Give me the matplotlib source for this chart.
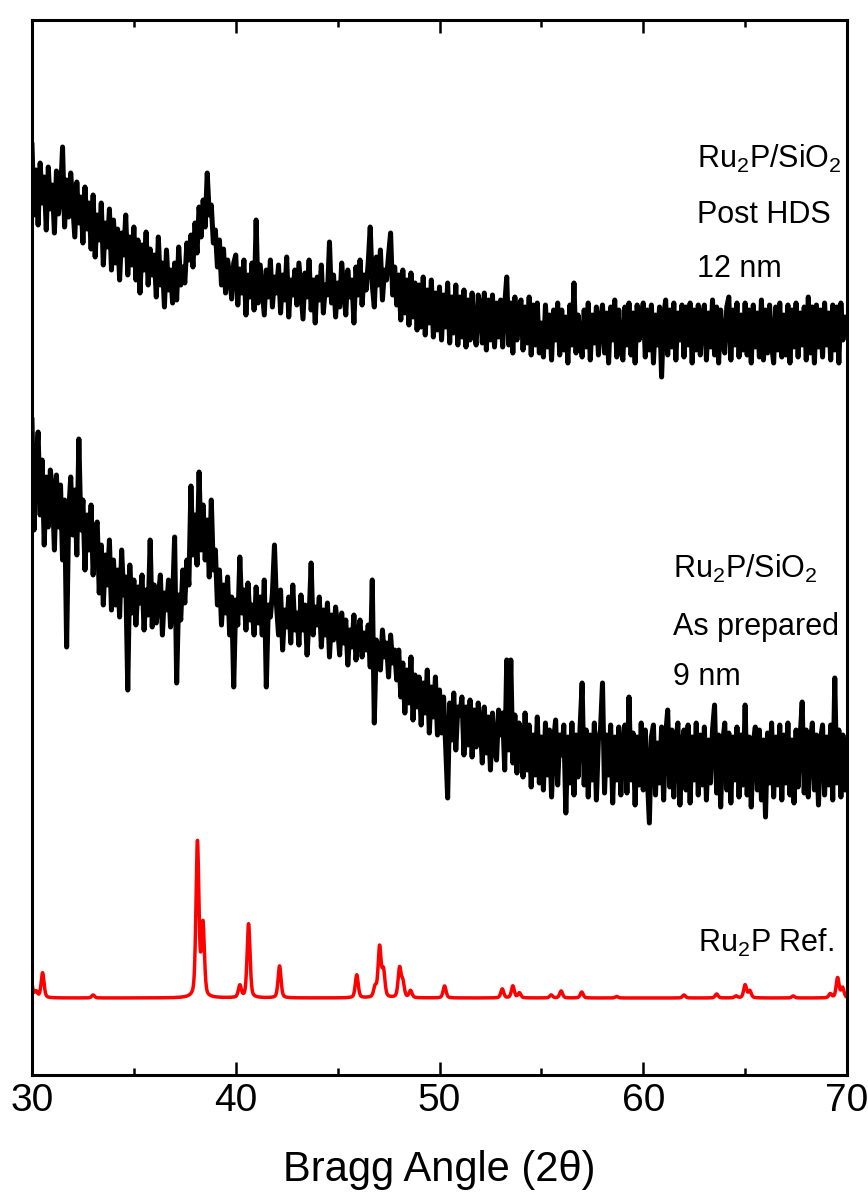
import numpy as np
import matplotlib
matplotlib.use("Agg")
import matplotlib.pyplot as plt

plt.rcParams["font.family"] = ["Liberation Sans", "DejaVu Sans"]
plt.rcParams["mathtext.fontset"] = "custom"
plt.rcParams["mathtext.rm"] = "Liberation Sans"
plt.rcParams["mathtext.it"] = "Liberation Sans:italic"

# 2-theta scan grid, 0.1 deg step
two_theta = np.linspace(30, 70, 401)

# Ru2P/SiO2 after HDS (a.u.)
post_hds = [
    930, 860, 905, 850, 912, 872, 898, 845, 908, 866,
    890, 842, 904, 861, 880, 928, 848, 895, 858, 902,
    870, 838, 893, 852, 878, 832, 888, 846, 872, 826,
    880, 818, 860, 835, 872, 810, 852, 828, 866, 805,
    855, 812, 846, 795, 842, 820, 860, 800, 838, 810,
    848, 795, 835, 782, 830, 805, 843, 790, 826, 800,
    820, 778, 838, 790, 812, 768, 825, 785, 805, 772,
    812, 775, 828, 790, 808, 792, 832, 815, 840, 808,
    852, 822, 868, 838, 875, 848, 902, 860, 870, 832,
    845, 808, 835, 790, 826, 782, 815, 800, 776, 812,
    820, 770, 806, 782, 815, 760, 800, 778, 812, 765,
    855, 772, 810, 785, 760, 805, 778, 815, 768, 798,
    782, 810, 762, 800, 775, 818, 758, 795, 780, 805,
    770, 812, 784, 756, 802, 778, 815, 765, 795, 752,
    798, 775, 810, 762, 790, 780, 833, 772, 800, 758,
    792, 768, 812, 785, 760, 805, 778, 795, 752, 808,
    780, 815, 770, 800, 785, 812, 848, 790, 768, 818,
    790, 825, 775, 805, 795, 820, 842, 780, 808, 770,
    800, 755, 805, 762, 795, 750, 802, 758, 792, 745,
    790, 748, 798, 740, 785, 752, 795, 738, 782, 745,
    788, 735, 780, 748, 792, 732, 778, 742, 790, 730,
    778, 738, 785, 728, 775, 735, 782, 742, 730, 780,
    770, 732, 782, 725, 775, 735, 780, 728, 772, 738,
    775, 728, 770, 798, 730, 772, 722, 778, 735, 768,
    775, 725, 768, 732, 778, 720, 770, 730, 772, 722,
    752, 718, 770, 728, 760, 715, 765, 735, 772, 720,
    765, 725, 758, 712, 770, 730, 792, 722, 760, 738,
    718, 765, 728, 772, 715, 760, 732, 768, 720, 755,
    770, 722, 762, 712, 768, 735, 775, 718, 765, 728,
    715, 768, 730, 772, 720, 762, 712, 770, 735, 758,
    772, 718, 765, 725, 770, 712, 760, 730, 768, 698,
    758, 775, 720, 765, 728, 772, 715, 762, 735, 770,
    718, 768, 730, 772, 712, 765, 725, 770, 720, 760,
    770, 715, 762, 728, 775, 720, 768, 712, 765, 730,
    722, 768, 778, 715, 765, 730, 772, 718, 760, 725,
    772, 720, 765, 712, 770, 728, 762, 718, 775, 715,
    765, 722, 770, 730, 712, 768, 725, 772, 718, 760,
    720, 770, 712, 765, 728, 772, 718, 762, 730, 768,
    715, 778, 722, 768, 712, 770, 728, 765, 718, 772,
    730, 762, 715, 770, 725, 768, 712, 772, 735, 758,
    740,
]

# Ru2P/SiO2 as prepared (a.u.)
as_prepared = [
    655, 545, 610, 643, 560, 615, 530, 598, 548, 605,
    585, 525, 600, 548, 590, 515, 575, 428, 562, 598,
    540, 585, 520, 636, 545, 575, 505, 560, 525, 570,
    500, 545, 553, 482, 530, 470, 520, 490, 535, 465,
    515, 470, 505, 458, 525, 480, 498, 385, 510, 462,
    495, 450, 488, 472, 500, 445, 485, 460, 535, 448,
    490, 452, 478, 500, 440, 482, 465, 495, 448, 475,
    538, 392, 480, 455, 505, 472, 515, 490, 589, 520,
    560, 510, 603, 525, 570, 515, 555, 498, 575, 505,
    525, 470, 505, 450, 490, 462, 498, 440, 478, 388,
    475, 450, 518, 462, 485, 445, 492, 455, 470, 440,
    488, 452, 478, 440, 495, 388, 470, 458, 482, 530,
    470, 440, 485, 425, 465, 448, 478, 432, 490, 445,
    462, 430, 480, 445, 470, 420, 458, 512, 440, 468,
    450, 478, 428, 465, 440, 472, 418, 460, 435, 468,
    448, 420, 462, 432, 455, 410, 445, 428, 460, 415,
    438, 455, 418, 442, 425, 450, 408, 495, 352, 435,
    428, 405, 445, 418, 432, 398, 440, 412, 425, 395,
    425, 378, 412, 362, 405, 372, 418, 355, 400, 368,
    398, 350, 392, 362, 405, 342, 388, 358, 398, 340,
    385, 342, 378, 330, 277, 372, 335, 382, 325, 368,
    360, 378, 320, 368, 330, 375, 318, 365, 328, 372,
    352, 312, 368, 322, 358, 305, 362, 325, 315, 365,
    340, 362, 305, 415, 325, 415, 312, 360, 302, 352,
    345, 298, 362, 305, 350, 288, 340, 300, 358, 292,
    338, 285, 352, 300, 345, 278, 335, 355, 290, 340,
    320, 350, 262, 338, 292, 352, 280, 340, 298, 348,
    392, 290, 345, 278, 340, 295, 352, 275, 335, 345,
    392, 282, 340, 300, 350, 272, 338, 295, 348, 280,
    330, 350, 282, 378, 295, 342, 270, 338, 290, 352,
    285, 345, 298, 252, 338, 350, 280, 332, 292, 348,
    275, 340, 365, 288, 345, 278, 335, 352, 270, 330,
    345, 285, 350, 272, 338, 295, 352, 280, 340, 290,
    348, 275, 335, 292, 345, 370, 282, 340, 268, 332,
    352, 285, 342, 272, 338, 295, 348, 278, 340, 290,
    370, 280, 338, 268, 332, 348, 285, 345, 275, 335,
    258, 342, 292, 352, 278, 338, 290, 350, 275, 340,
    292, 352, 280, 335, 272, 345, 288, 338, 373, 282,
    345, 278, 332, 352, 285, 340, 270, 335, 350, 280,
    338, 290, 350, 275, 397, 292, 345, 278, 340, 285,
    335,
]

# Ru2P reference pattern: reflection positions (deg) and heights (a.u.)
ref_pos = [29.95, 30.2, 30.52, 33.0, 38.12, 38.39, 40.2, 40.63, 42.15,
           45.94, 46.84, 47.06, 47.25, 48.04, 48.2, 48.58, 50.25, 53.08,
           53.6, 53.92, 55.48, 55.97, 56.98, 58.7, 62.0, 63.6, 64.55,
           65.0, 65.23, 67.36, 69.18, 69.54, 69.78]
ref_int = [18, 6, 25, 3, 155, 72, 12, 74, 32,
           23, 10, 50, 26, 29, 15, 7, 12, 9,
           12, 5, 3, 7, 6, 1.5, 3, 4, 2,
           13, 7, 2, 4, 20, 10]
ref_base = 77

fine = np.linspace(30, 70, 4001)
ref_curve = np.full_like(fine, ref_base, dtype=float)
hw = 0.085
for p, h in zip(ref_pos, ref_int):
    lor = 1.0 / (1.0 + ((fine - p) / hw) ** 2)
    gau = np.exp(-np.log(2) * ((fine - p) / hw) ** 2)
    ref_curve += h * (0.4 * lor + 0.6 * gau)

fig = plt.figure(figsize=(8.68, 12.01), dpi=100)
ax = fig.add_axes([32 / 868, 126 / 1201, 815 / 868, 1055 / 1201])

ax.plot(two_theta, post_hds, color="black", lw=3.6)
ax.plot(two_theta, as_prepared, color="black", lw=3.6)
ax.plot(fine, ref_curve, color="#ff0000", lw=2.5)

ax.set_xlim(30, 70)
ax.set_ylim(0, 1055)
ax.set_yticks([])
ax.set_xticks([30, 40, 50, 60, 70])
ax.set_xticks([35, 45, 55, 65], minor=True)
ax.tick_params(axis="x", which="both", direction="in", top=True, width=1.8)
ax.tick_params(axis="x", which="major", length=9.5, pad=6, labelsize=28)
ax.tick_params(axis="x", which="minor", length=5)
for s in ax.spines.values():
    s.set_linewidth(2.2)

ax.set_xlabel("Bragg Angle (2θ)", fontsize=30, labelpad=22)

lab_kw = dict(fontsize=22, color="black", ha="left", va="baseline")
ax.text(62.65, 907, "Ru$_2$P/SiO$_2$", **lab_kw)
ax.text(62.65, 852, "Post HDS", **lab_kw)
ax.text(62.65, 798, "12 nm", **lab_kw)
ax.text(61.45, 497, "Ru$_2$P/SiO$_2$", **lab_kw)
ax.text(61.45, 440, "As prepared", **lab_kw)
ax.text(61.45, 390, "9 nm", **lab_kw)
ax.text(62.69, 123, "Ru$_2$P Ref.", **lab_kw)

fig.savefig("out.png", dpi=100)
